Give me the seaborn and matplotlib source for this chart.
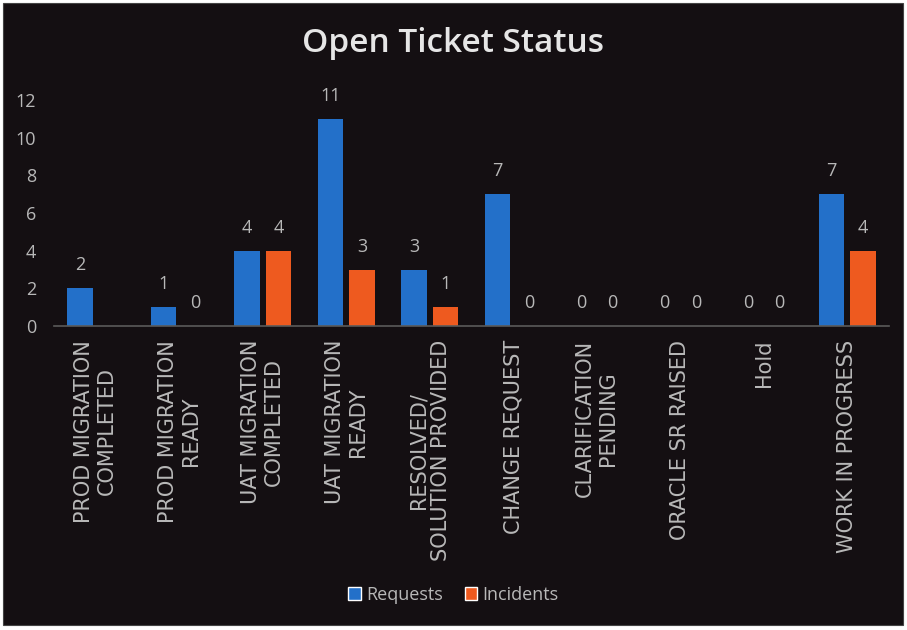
import numpy as np
import pandas as pd
import matplotlib
matplotlib.use("Agg")
import matplotlib.pyplot as plt
import seaborn as sns
from matplotlib.patches import Rectangle, Patch

categories = [
    "PROD MIGRATION\nCOMPLETED",
    "PROD MIGRATION\nREADY",
    "UAT MIGRATION\nCOMPLETED",
    "UAT MIGRATION\nREADY",
    "RESOLVED/\nSOLUTION PROVIDED",
    "CHANGE REQUEST",
    "CLARIFICATION\nPENDING",
    "ORACLE SR RAISED",
    "Hold",
    "WORK IN PROGRESS",
]
requests = [2, 1, 4, 11, 3, 7, 0, 0, 0, 7]
incidents = [np.nan, 0, 4, 3, 1, 0, 0, 0, 0, 4]
series_names = ["Requests", "Incidents"]
yticks = [0, 2, 4, 6, 8, 10, 12]

BG = "#140f12"
BLUE = "#2370c9"
ORANGE = "#ee5a1f"
TXT = "#b8b8b8"

df = pd.DataFrame({
    "category": categories * 2,
    "series": [series_names[0]] * len(categories) + [series_names[1]] * len(categories),
    "value": requests + incidents,
})

sns.set_theme(style="dark")
plt.rcParams["font.family"] = ["DejaVu Sans"]

fig = plt.figure(figsize=(9.07, 6.30), dpi=100)
fig.patch.set_facecolor("white")
fig.patches.append(Rectangle((3 / 907, 5 / 630), 900 / 907, 622 / 630,
                             transform=fig.transFigure, facecolor=BG,
                             edgecolor="#444444", linewidth=0.8, zorder=-10))

ax = fig.add_axes([54 / 907, 304 / 630, 835 / 907, 226 / 630])
ax.set_facecolor("none")

sns.barplot(data=df, x="category", y="value", hue="series",
            order=categories, hue_order=series_names,
            palette=[BLUE, ORANGE], width=0.76, gap=0.2,
            saturation=1, linewidth=0, edgecolor="none",
            ax=ax, legend=False)

for cont in ax.containers:
    ax.bar_label(cont, fmt="%g", padding=10, color=TXT, fontsize=13,
                 family="Open Sans", clip_on=False)

ax.set_xlim(-0.5, len(categories) - 0.5)
ax.set_ylim(0, 12)
ax.set_yticks(yticks)
ax.set_xlabel("")
ax.set_ylabel("")
ax.grid(False)
for s in ["top", "right", "left"]:
    ax.spines[s].set_visible(False)
ax.spines["bottom"].set_color("#5a5a5a")
ax.spines["bottom"].set_linewidth(1.2)

ax.tick_params(axis="y", length=0, pad=13, labelcolor=TXT, labelsize=13)
ax.tick_params(axis="x", length=0, pad=10, labelcolor=TXT)
for lbl in ax.get_yticklabels():
    lbl.set_family("Open Sans")
ax.set_xticks(range(len(categories)))
ax.set_xticklabels(categories, rotation=90, fontsize=15, linespacing=1.2,
                   va="top", ha="center", multialignment="center")

fig.text(0.5, 1 - 44 / 630, "Open Ticket Status", ha="center", va="center",
         fontsize=24, color="#e6e6e6", family="Open Sans", fontweight="semibold")

handles = [Patch(facecolor=BLUE), Patch(facecolor=ORANGE)]
leg = fig.legend(handles, series_names, loc="center",
                 bbox_to_anchor=(0.5, 1 - 595 / 630), ncol=2, frameon=False,
                 handlelength=0.7, handleheight=0.7, handletextpad=0.3,
                 columnspacing=1.2, prop={"family": "Open Sans", "size": 13})
for t in leg.get_texts():
    t.set_color(TXT)

fig.savefig("out.png", dpi=100, facecolor=fig.get_facecolor())
